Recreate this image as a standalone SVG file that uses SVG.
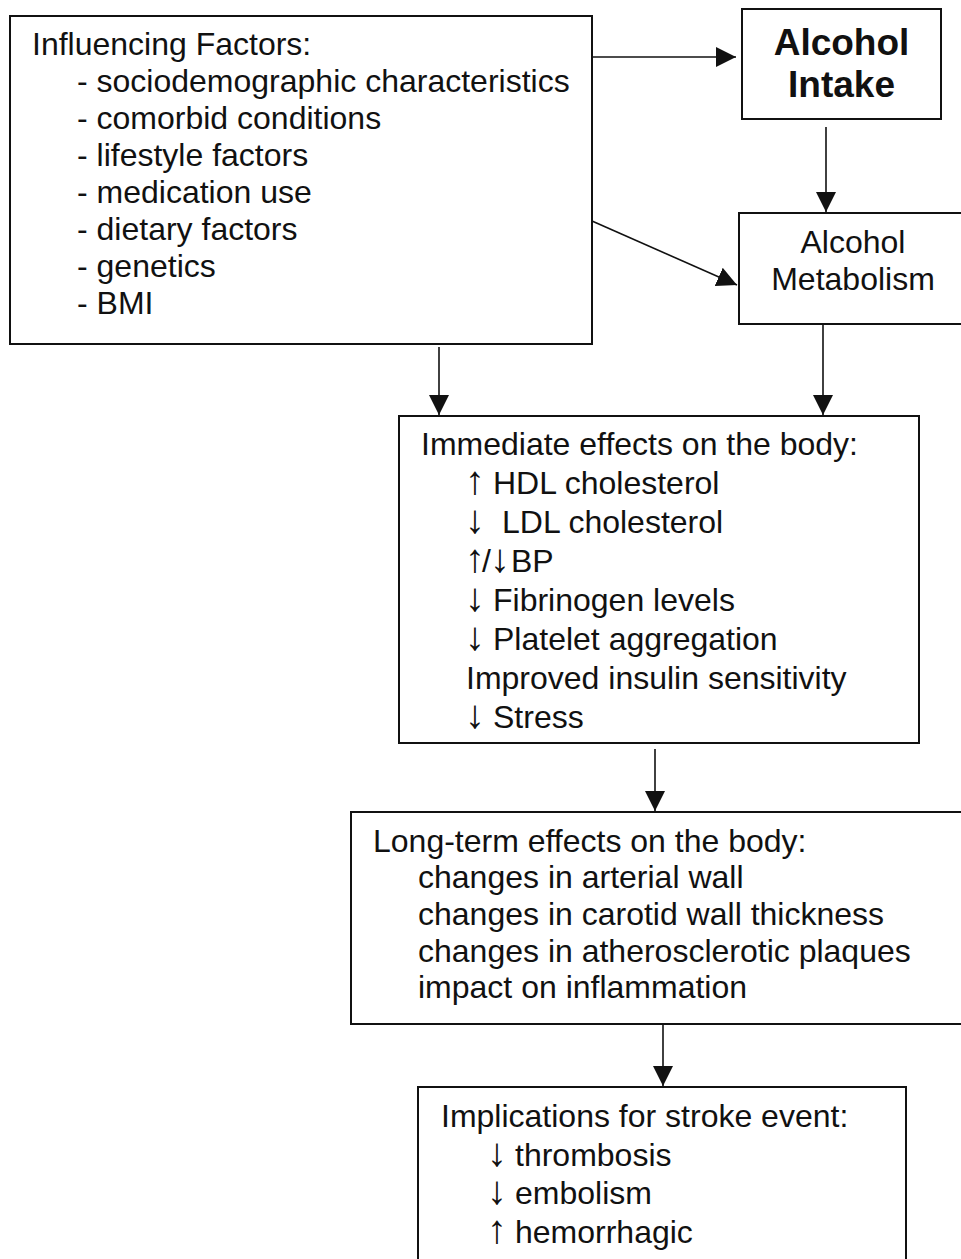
<svg xmlns="http://www.w3.org/2000/svg" width="961" height="1259" viewBox="0 0 961 1259">
  <style>
    .box { fill: #ffffff; stroke: #111111; stroke-width: 2; }
    .txt { font-family: "Liberation Sans", Arial, "DejaVu Sans", sans-serif; font-size: 32px; fill: #111111; }
    .bold { font-weight: bold; font-size: 37px; }
    .arw { font-size: 40px; }
    .edge { stroke: #111111; stroke-width: 1.6; fill: none; marker-end: url(#head); }
  </style>
  <defs>
    <marker id="head" markerUnits="userSpaceOnUse" markerWidth="20" markerHeight="20" refX="20" refY="10" orient="auto">
      <path d="M0,0 L20,10 L0,20 Z" fill="#111111"/>
    </marker>
  </defs>
  <rect width="961" height="1259" fill="#ffffff"/>

  <!-- connectors -->
  <g id="connectors">
    <line class="edge" x1="592" y1="57" x2="736" y2="57"/>
    <line class="edge" x1="826" y1="127" x2="826" y2="212"/>
    <line class="edge" x1="592" y1="221" x2="737" y2="285"/>
    <line class="edge" x1="439" y1="347" x2="439" y2="415"/>
    <line class="edge" x1="823" y1="324" x2="823" y2="415"/>
    <line class="edge" x1="655" y1="749" x2="655" y2="811"/>
    <line class="edge" x1="663" y1="1024" x2="663" y2="1086"/>
  </g>

  <!-- influencing factors -->
  <g id="factors">
    <rect class="box" x="10" y="16" width="582" height="328"/>
    <text class="txt" x="32" y="55">Influencing Factors:</text>
    <text class="txt" x="77" y="92">- sociodemographic characteristics</text>
    <text class="txt" x="77" y="129">- comorbid conditions</text>
    <text class="txt" x="77" y="166">- lifestyle factors</text>
    <text class="txt" x="77" y="203">- medication use</text>
    <text class="txt" x="77" y="240">- dietary factors</text>
    <text class="txt" x="77" y="277">- genetics</text>
    <text class="txt" x="77" y="314">- BMI</text>
  </g>

  <!-- alcohol intake -->
  <g id="intake">
    <rect class="box" x="742" y="9" width="199" height="110"/>
    <text class="txt bold" x="841.5" y="55" text-anchor="middle">Alcohol</text>
    <text class="txt bold" x="841.5" y="97" text-anchor="middle">Intake</text>
  </g>

  <!-- alcohol metabolism -->
  <g id="metabolism">
    <rect class="box" x="739" y="213" width="230" height="111"/>
    <text class="txt" x="853" y="253" text-anchor="middle">Alcohol</text>
    <text class="txt" x="853" y="290" text-anchor="middle">Metabolism</text>
  </g>

  <!-- immediate effects -->
  <g id="immediate">
    <rect class="box" x="399" y="416" width="520" height="327"/>
    <text class="txt" x="421" y="455">Immediate effects on the body:</text>
    <text class="txt" y="494"><tspan class="arw" x="465">↑</tspan><tspan x="493">HDL cholesterol</tspan></text>
    <text class="txt" y="533"><tspan class="arw" x="465">↓</tspan><tspan x="502">LDL cholesterol</tspan></text>
    <text class="txt" y="572"><tspan class="arw" x="465">↑</tspan><tspan x="482">/</tspan><tspan class="arw" x="490">↓</tspan><tspan x="511">BP</tspan></text>
    <text class="txt" y="611"><tspan class="arw" x="465">↓</tspan><tspan x="493">Fibrinogen levels</tspan></text>
    <text class="txt" y="650"><tspan class="arw" x="465">↓</tspan><tspan x="493">Platelet aggregation</tspan></text>
    <text class="txt" x="466" y="689">Improved insulin sensitivity</text>
    <text class="txt" y="728"><tspan class="arw" x="465">↓</tspan><tspan x="493">Stress</tspan></text>
  </g>

  <!-- long-term effects -->
  <g id="longterm">
    <rect class="box" x="351" y="812" width="620" height="212"/>
    <text class="txt" x="373" y="852">Long-term effects on the body:</text>
    <text class="txt" x="418" y="888">changes in arterial wall</text>
    <text class="txt" x="418" y="925">changes in carotid wall thickness</text>
    <text class="txt" x="418" y="962">changes in atherosclerotic plaques</text>
    <text class="txt" x="418" y="998">impact on inflammation</text>
  </g>

  <!-- stroke implications -->
  <g id="implications">
    <rect class="box" x="418" y="1087" width="488" height="200"/>
    <text class="txt" x="441" y="1127">Implications for stroke event:</text>
    <text class="txt" y="1166"><tspan class="arw" x="487">↓</tspan><tspan x="515">thrombosis</tspan></text>
    <text class="txt" y="1204"><tspan class="arw" x="487">↓</tspan><tspan x="515">embolism</tspan></text>
    <text class="txt" y="1243"><tspan class="arw" x="487">↑</tspan><tspan x="515">hemorrhagic</tspan></text>
  </g>
</svg>
